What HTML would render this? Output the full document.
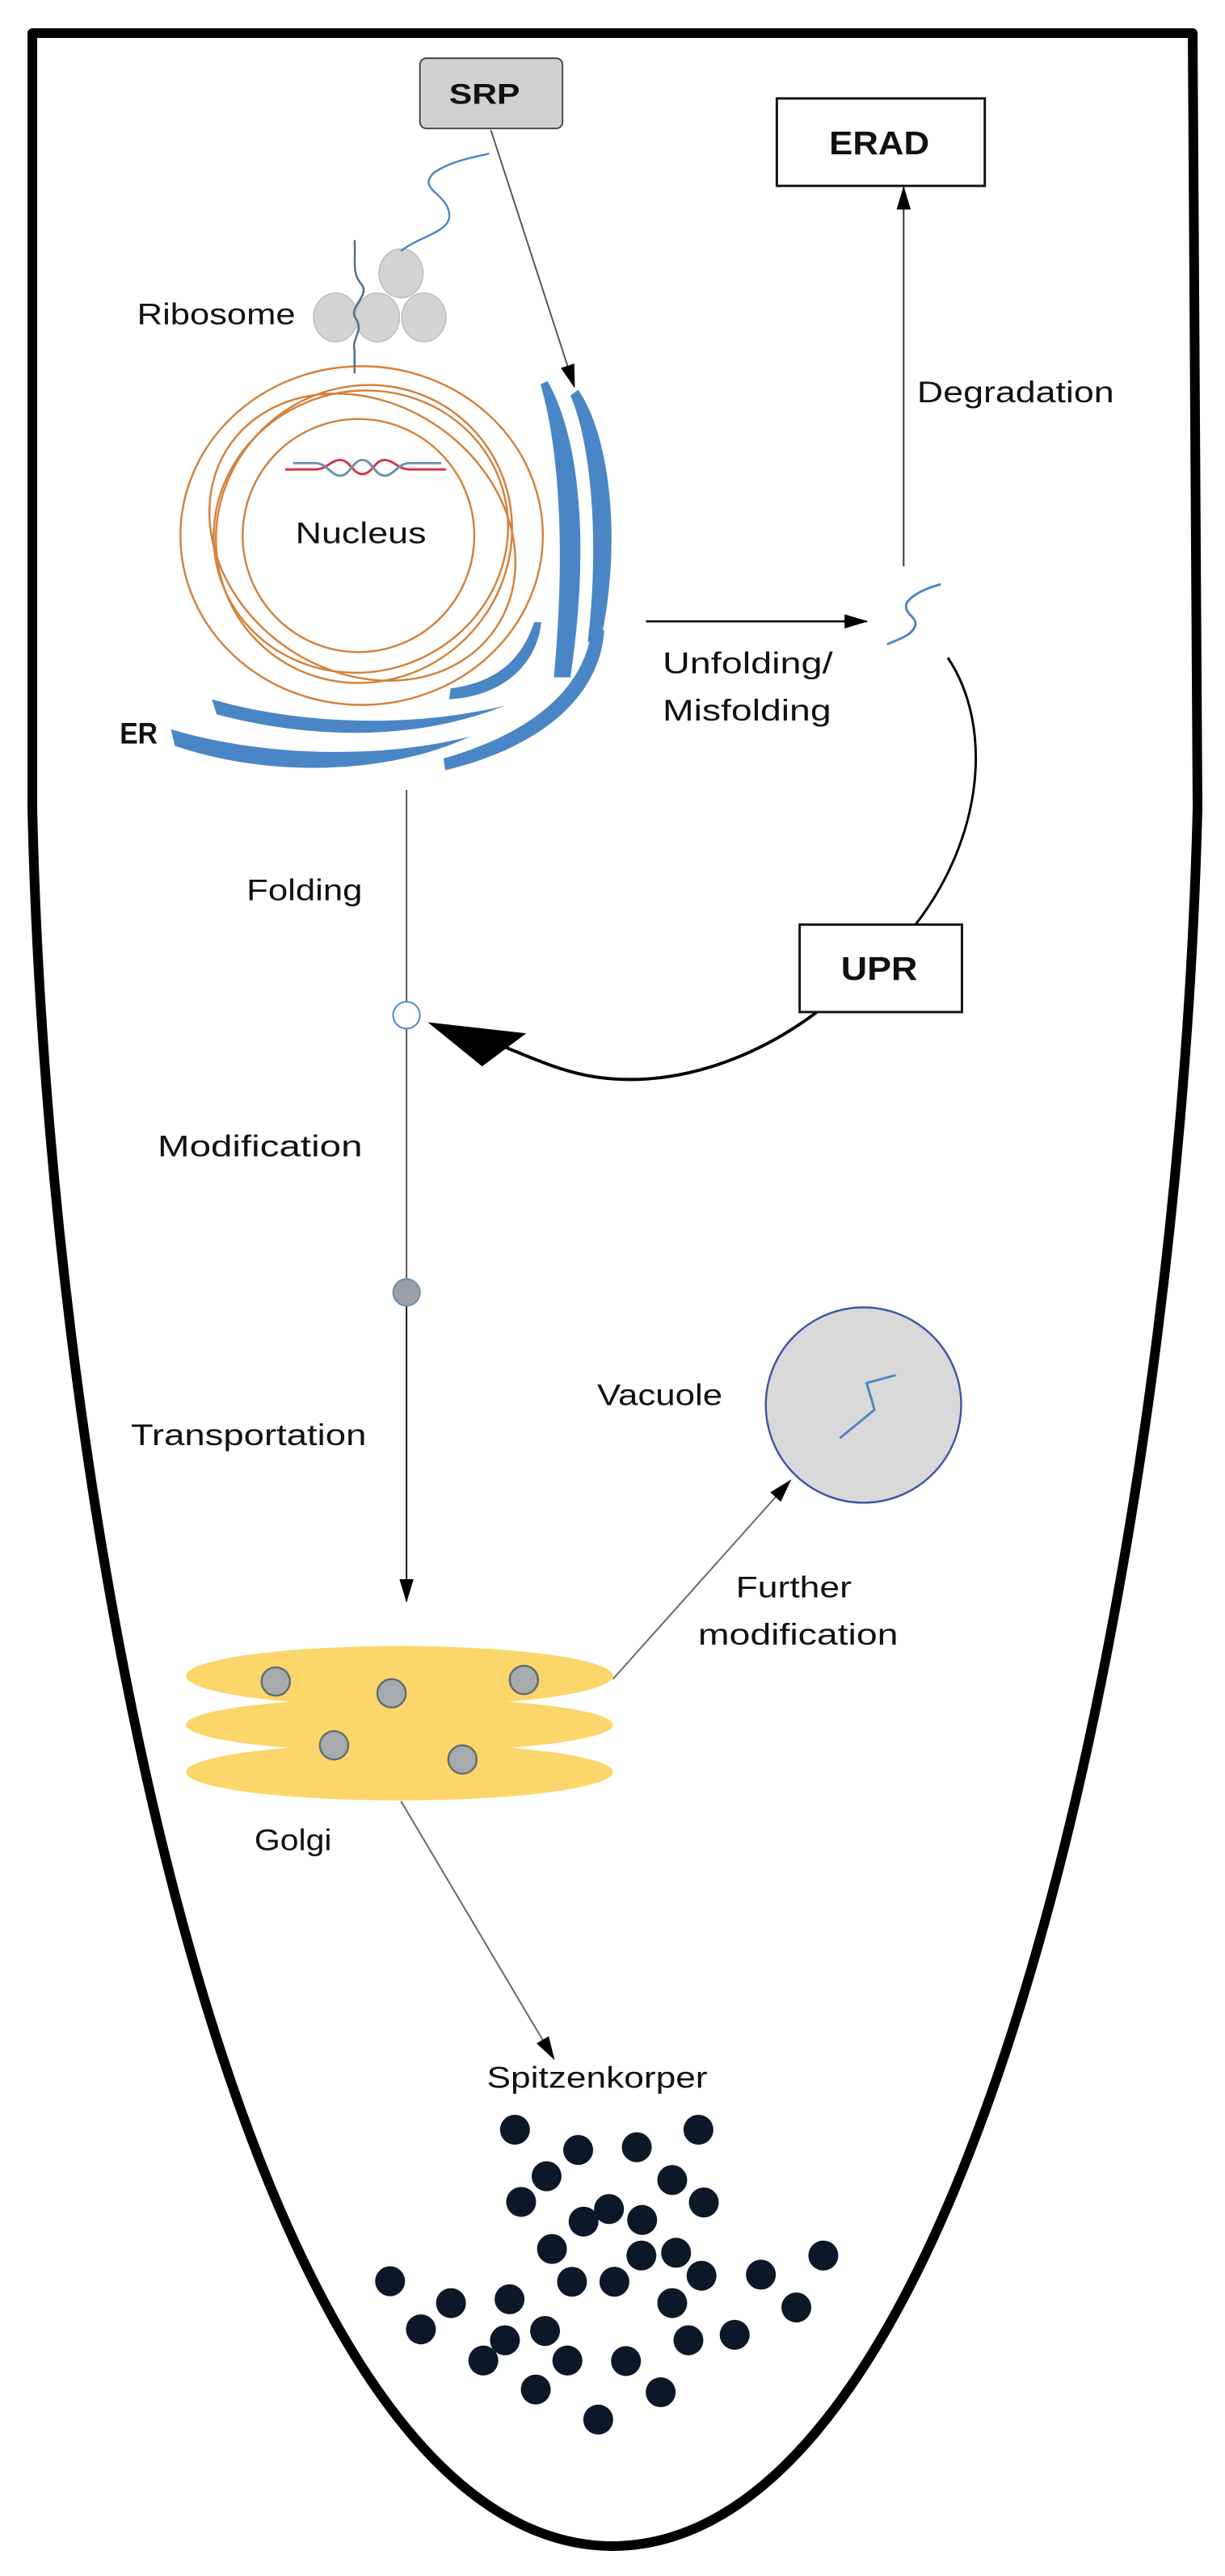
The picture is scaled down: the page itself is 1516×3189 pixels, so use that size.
<!DOCTYPE html>
<html><head><meta charset="utf-8"><style>
html,body{margin:0;padding:0;background:#fff}
svg{display:block}
text{font-family:"Liberation Sans",sans-serif;fill:#111}
</style></head><body>
<svg width="1516" height="3189" viewBox="0 0 1516 3189" xmlns="http://www.w3.org/2000/svg">
<defs>
<marker id="ah2" markerWidth="30" markerHeight="20" refX="28" refY="10" orient="auto" markerUnits="userSpaceOnUse" viewBox="0 0 30 20"><path d="M0,1 L30,10 L0,19 Z" fill="#000"/></marker>
</defs>
<!-- cell outline -->
<path d="M40,1000 L40,41 L1476,41 L1482,1000 C1460,1900 1216,3150 758,3152 C300,3150 60,1900 40,1000" fill="none" stroke="#000" stroke-width="12" stroke-linejoin="round"/>

<g transform="scale(0.975)">
<!-- SRP -->
<rect x="533" y="74" width="181" height="89" rx="8" fill="#d0d0d0" stroke="#444" stroke-width="2"/>
<text x="615" y="132" font-size="36" font-weight="bold" text-anchor="middle" textLength="90" lengthAdjust="spacingAndGlyphs">SRP</text>
<line x1="623" y1="165" x2="729" y2="491" stroke="#555" stroke-width="2" marker-end="url(#ah2)"/>

<!-- ERAD -->
<rect x="986" y="125" width="264" height="111" fill="#fff" stroke="#111" stroke-width="3"/>
<text x="1116" y="196" font-size="42" font-weight="bold" text-anchor="middle" textLength="127" lengthAdjust="spacingAndGlyphs">ERAD</text>
<line x1="1147" y1="719" x2="1147" y2="238" stroke="#333" stroke-width="2" marker-end="url(#ah2)"/>
<text x="1164" y="511" font-size="38" textLength="250" lengthAdjust="spacingAndGlyphs">Degradation</text>

<!-- misfolded protein -->
<path d="M1194,742 C1170,748 1150,760 1150,770 C1150,782 1168,785 1160,798 C1154,808 1140,812 1126,818" fill="none" stroke="#4a86c5" stroke-width="3"/>
<line x1="820" y1="789" x2="1100" y2="789" stroke="#000" stroke-width="2.5" marker-end="url(#ah2)"/>
<text x="841" y="855" font-size="38" textLength="216" lengthAdjust="spacingAndGlyphs">Unfolding/</text>
<text x="841" y="915" font-size="38" textLength="214" lengthAdjust="spacingAndGlyphs">Misfolding</text>

<!-- UPR loop -->
<path d="M1203,835 C1260,920 1250,1060 1162,1174" fill="none" stroke="#000" stroke-width="3"/>
<rect x="1015" y="1174" width="206" height="111" fill="#fff" stroke="#111" stroke-width="3"/>
<text x="1116" y="1244" font-size="42" font-weight="bold" text-anchor="middle" textLength="97" lengthAdjust="spacingAndGlyphs">UPR</text>
<path d="M1037,1285 C950,1350 850,1380 760,1368 C700,1360 650,1330 590,1310" fill="none" stroke="#000" stroke-width="4"/>
<path d="M543,1298 L668,1312 L612,1354 Z" fill="#000"/>

<!-- Nucleus -->
<g fill="none" stroke="#d4803a" stroke-width="2.5">
<ellipse cx="459" cy="680" rx="230" ry="215"/>
<ellipse cx="458" cy="675" rx="188" ry="178" transform="rotate(-20 458 675)"/>
<ellipse cx="455" cy="680" rx="147" ry="148"/>
<ellipse cx="460" cy="682" rx="205" ry="170" transform="rotate(35 460 682)"/>
<ellipse cx="462" cy="678" rx="192" ry="185" transform="rotate(-50 462 678)"/>
</g>
<path d="M362,596 L400,596 C415,596 420,584 432,584 C444,584 448,602 460,602 C472,602 476,584 488,584 C500,584 505,596 520,596 L566,596" fill="none" stroke="#d2334a" stroke-width="3"/>
<path d="M372,588 L400,588 C415,588 420,604 432,604 C444,604 448,584 460,584 C472,584 476,604 488,604 C500,604 505,588 520,588 L560,588" fill="none" stroke="#6a8fb0" stroke-width="3"/>
<text x="458" y="690" font-size="38" text-anchor="middle" textLength="166" lengthAdjust="spacingAndGlyphs">Nucleus</text>

<!-- Ribosome -->
<g fill="#d3d3d3" stroke="#bbb" stroke-width="1.5">
<ellipse cx="509" cy="347" rx="28" ry="31"/>
<ellipse cx="426" cy="403" rx="28" ry="31"/>
<ellipse cx="479" cy="403" rx="28" ry="31"/>
<ellipse cx="538" cy="403" rx="28" ry="31"/>
</g>
<path d="M450,305 C452,330 446,345 458,360 C472,375 440,390 452,405 C462,420 446,430 450,445 L450,474" fill="none" stroke="#4a6f90" stroke-width="2.5"/>
<path d="M509,319 C530,300 575,295 570,270 C566,245 530,240 550,220 C570,205 600,200 621,195" fill="none" stroke="#4a86c5" stroke-width="2.5"/>
<text x="174" y="412" font-size="38" textLength="201" lengthAdjust="spacingAndGlyphs">Ribosome</text>

<!-- ER -->
<g fill="#4a86c5">
<path d="M695,484 C738,560 748,700 724,860 L703,860 C718,700 710,570 686,488 Z"/>
<path d="M734,495 C778,560 788,700 762,815 L746,815 C760,700 753,570 724,502 Z"/>
<path d="M687,790 C682,842 640,884 570,888 L572,874 C633,866 663,835 678,790 Z"/>
<path d="M767,800 C762,882 690,948 565,978 L563,963 C668,933 738,880 750,805 Z"/>
<path d="M269,888 C380,920 520,925 641,896 C530,940 400,940 275,907 Z"/>
<path d="M217,926 C330,960 480,965 597,935 C490,985 340,987 222,947 Z"/>
</g>
<text x="152" y="944" font-size="38" font-weight="bold" textLength="48" lengthAdjust="spacingAndGlyphs">ER</text>

<!-- main vertical path -->
<line x1="516" y1="1003" x2="516" y2="1272" stroke="#555" stroke-width="2"/>
<line x1="516" y1="1306" x2="516" y2="1624" stroke="#555" stroke-width="2"/>
<line x1="516" y1="1658" x2="516" y2="2033" stroke="#111" stroke-width="2" marker-end="url(#ah2)"/>
<circle cx="516" cy="1289" r="17" fill="#fff" stroke="#4a86c5" stroke-width="2"/>
<circle cx="516" cy="1641" r="17" fill="#9aa0a6" stroke="#6a8fb0" stroke-width="2"/>
<text x="460" y="1143" font-size="38" text-anchor="end" textLength="147" lengthAdjust="spacingAndGlyphs">Folding</text>
<text x="460" y="1468" font-size="38" text-anchor="end" textLength="260" lengthAdjust="spacingAndGlyphs">Modification</text>
<text x="465" y="1835" font-size="38" text-anchor="end" textLength="299" lengthAdjust="spacingAndGlyphs">Transportation</text>

<!-- Vacuole -->
<circle cx="1096" cy="1784" r="124" fill="#d9d9d9" stroke="#3e55a0" stroke-width="2.5"/>
<path d="M1137,1746 L1100,1756 L1110,1790 L1066,1826" fill="none" stroke="#4a86c5" stroke-width="3" stroke-linejoin="round"/>
<text x="758" y="1784" font-size="38" textLength="159" lengthAdjust="spacingAndGlyphs">Vacuole</text>
<line x1="778" y1="2132" x2="1003" y2="1880" stroke="#666" stroke-width="2" marker-end="url(#ah2)"/>
<text x="934" y="2028" font-size="38" textLength="147" lengthAdjust="spacingAndGlyphs">Further</text>
<text x="886" y="2088" font-size="38" textLength="254" lengthAdjust="spacingAndGlyphs">modification</text>

<!-- Golgi -->
<g fill="#fcd66a">
<ellipse cx="507" cy="2250" rx="271" ry="36"/>
<ellipse cx="507" cy="2190" rx="271" ry="34"/>
<ellipse cx="507" cy="2128" rx="271" ry="38"/>
</g>
<g fill="#a8abad" stroke="#5f6f6f" stroke-width="2.5">
<circle cx="350" cy="2135" r="18"/>
<circle cx="497" cy="2150" r="18"/>
<circle cx="665" cy="2133" r="18"/>
<circle cx="424" cy="2216" r="18"/>
<circle cx="587" cy="2234" r="18"/>
</g>
<text x="323" y="2349" font-size="38" textLength="98" lengthAdjust="spacingAndGlyphs">Golgi</text>
<line x1="509" y1="2287" x2="703" y2="2614" stroke="#666" stroke-width="2" marker-end="url(#ah2)"/>
<text x="618" y="2651" font-size="38" textLength="280" lengthAdjust="spacingAndGlyphs">Spitzenkorper</text>

<!-- Spitzenkorper vesicles -->
<g transform="translate(0,2100) scale(0.9785,0.6944)" fill="#0c1828">
<ellipse cx="668" cy="870" rx="19.4" ry="27.4"/><ellipse cx="750" cy="907" rx="19.4" ry="27.4"/>
<ellipse cx="826" cy="902" rx="19.4" ry="27.4"/><ellipse cx="906" cy="870" rx="19.4" ry="27.4"/>
<ellipse cx="709" cy="955" rx="19.4" ry="27.4"/><ellipse cx="872" cy="962" rx="19.4" ry="27.4"/>
<ellipse cx="676" cy="1002" rx="19.4" ry="27.4"/><ellipse cx="913" cy="1003" rx="19.4" ry="27.4"/>
<ellipse cx="790" cy="1015" rx="19.4" ry="27.4"/><ellipse cx="757" cy="1038" rx="19.4" ry="27.4"/>
<ellipse cx="833" cy="1035" rx="19.4" ry="27.4"/><ellipse cx="716" cy="1088" rx="19.4" ry="27.4"/>
<ellipse cx="832" cy="1100" rx="19.4" ry="27.4"/><ellipse cx="877" cy="1095" rx="19.4" ry="27.4"/>
<ellipse cx="742" cy="1148" rx="19.4" ry="27.4"/><ellipse cx="797" cy="1148" rx="19.4" ry="27.4"/>
<ellipse cx="910" cy="1137" rx="19.4" ry="27.4"/><ellipse cx="987" cy="1135" rx="19.4" ry="27.4"/>
<ellipse cx="1068" cy="1100" rx="19.4" ry="27.4"/><ellipse cx="506" cy="1147" rx="19.4" ry="27.4"/>
<ellipse cx="585" cy="1187" rx="19.4" ry="27.4"/><ellipse cx="661" cy="1180" rx="19.4" ry="27.4"/>
<ellipse cx="872" cy="1187" rx="19.4" ry="27.4"/><ellipse cx="1033" cy="1195" rx="19.4" ry="27.4"/>
<ellipse cx="546" cy="1235" rx="19.4" ry="27.4"/><ellipse cx="707" cy="1238" rx="19.4" ry="27.4"/>
<ellipse cx="655" cy="1255" rx="19.4" ry="27.4"/><ellipse cx="893" cy="1255" rx="19.4" ry="27.4"/>
<ellipse cx="953" cy="1245" rx="19.4" ry="27.4"/><ellipse cx="627" cy="1292" rx="19.4" ry="27.4"/>
<ellipse cx="736" cy="1292" rx="19.4" ry="27.4"/><ellipse cx="812" cy="1293" rx="19.4" ry="27.4"/>
<ellipse cx="695" cy="1345" rx="19.4" ry="27.4"/><ellipse cx="857" cy="1350" rx="19.4" ry="27.4"/>
<ellipse cx="776" cy="1400" rx="19.4" ry="27.4"/>
</g>
</g>
</svg>
</body></html>
